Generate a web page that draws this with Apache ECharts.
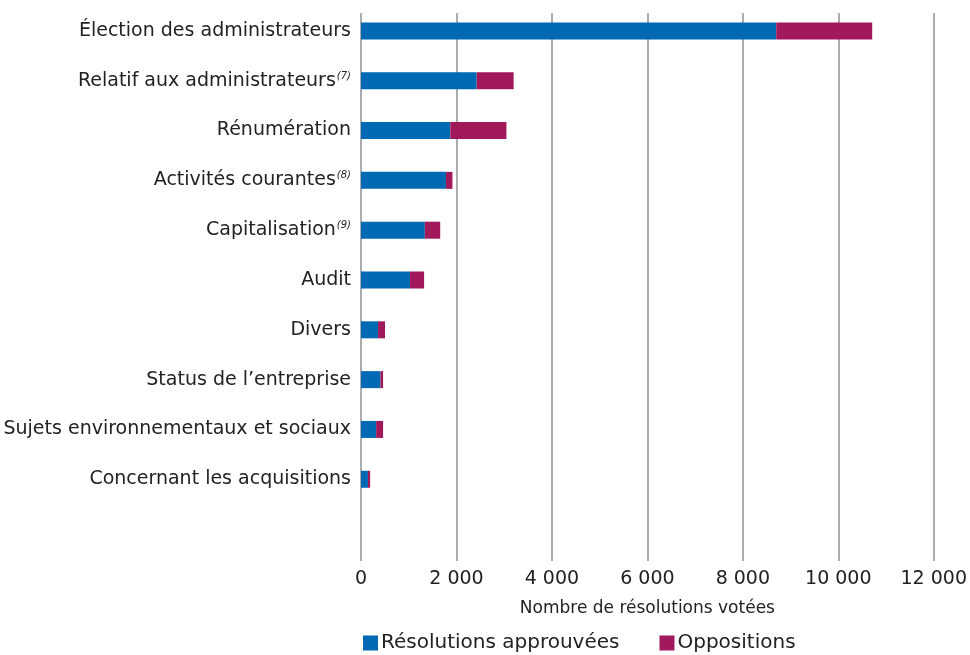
<!DOCTYPE html>
<html><head><meta charset="utf-8">
<script src="https://cdn.jsdelivr.net/npm/echarts@6/dist/echarts.min.js"></script>
<style>html,body{margin:0;padding:0;background:#fff}#c{width:970px;height:655px}</style>
</head><body><div id="c"></div>
<script>
var categories = ['Élection des administrateurs','Relatif aux administrateurs','Rénumération','Activités courantes','Capitalisation','Audit','Divers','Status de l\u2019entreprise','Sujets environnementaux et sociaux','Concernant les acquisitions',''];
var notes = ['','(7)','','(8)','(9)','','','','','',''];
var approuvees = [8650,2410,1860,1770,1330,1020,355,405,315,145,null];
var oppositions = [2000,770,1170,135,320,295,145,55,145,45,null];
var xTicks = [0,2000,4000,6000,8000,10000,12000];

var FONT = 'DejaVu Sans';
var chart = echarts.init(document.getElementById('c'));
function fmt(v){ return String(v).replace(/\B(?=(\d{3})+(?!\d))/g,' '); }
chart.setOption({
  animation:false,
  textStyle:{fontFamily:FONT},
  grid:[
    {left:361,width:576,top:6,height:548},
    {left:361,width:576,top:13,height:548}
  ],
  xAxis:[
    {gridIndex:0,type:'value',min:0,max:12000,interval:2000,show:false},
    {gridIndex:1,type:'value',min:xTicks[0],max:xTicks[xTicks.length-1],interval:2000,
     axisLine:{show:false},axisTick:{show:false},
     splitLine:{show:true,lineStyle:{color:'#8f9196',width:1.5}},
     axisLabel:{color:'#222',fontSize:19,margin:9,formatter:function(v){return fmt(v);}},
     name:'Nombre de résolutions votées',nameLocation:'middle',nameGap:39,
     nameTextStyle:{color:'#222',fontSize:17}}
  ],
  yAxis:[
    {gridIndex:0,type:'category',inverse:true,data:categories,
     axisLine:{show:false},axisTick:{show:false},
     axisLabel:{color:'#222',fontSize:19,margin:10,
       formatter:function(v,i){ return notes[i] ? v+'{s|'+notes[i]+'}' : v; },
       rich:{s:{fontSize:10,fontStyle:'italic',color:'#222',verticalAlign:'top',padding:[0,0,8,1]}}}},
    {gridIndex:1,type:'value',min:0,max:1,show:false}
  ],
  legend:{top:628,left:358,itemWidth:15,itemHeight:15,itemGap:40,icon:'rect',
    textStyle:{color:'#222',fontSize:20,padding:[0,0,0,-2]},
    data:['Résolutions approuvées','Oppositions']},
  series:[
    {name:'Résolutions approuvées',type:'bar',stack:'t',xAxisIndex:0,yAxisIndex:0,barWidth:17,
     itemStyle:{color:'#0069b4'},data:approuvees},
    {name:'Oppositions',type:'bar',stack:'t',xAxisIndex:0,yAxisIndex:0,barWidth:17,
     itemStyle:{color:'#a2195b'},data:oppositions}
  ]
});
</script></body></html>
